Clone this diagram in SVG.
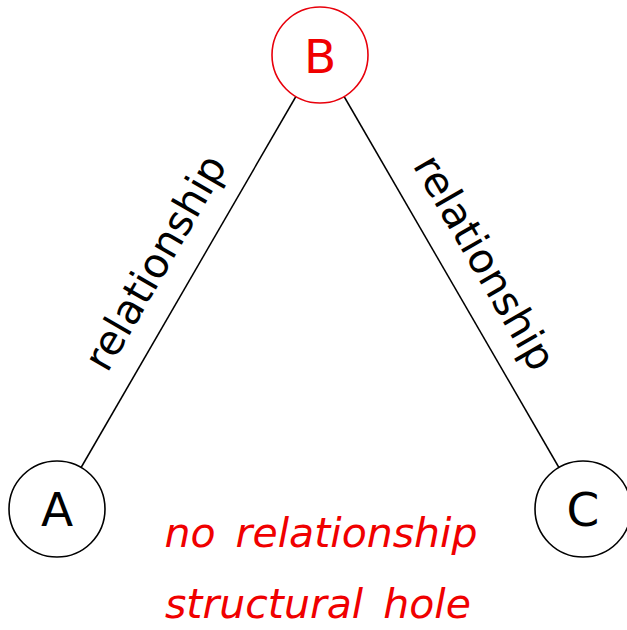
<svg xmlns="http://www.w3.org/2000/svg" width="627" height="630" viewBox="0 0 627 630">
<style>
.node{fill:#fff;stroke:#000;stroke-width:1.6}
.nodeR{fill:#fff;stroke:#e8000b;stroke-width:1.6}
.lbl{font-family:"DejaVu Sans",sans-serif;font-size:47px;text-anchor:middle}
.edge{stroke:#000;stroke-width:1.5;fill:none}
.elbl{font-family:"DejaVu Sans",sans-serif;font-size:41px;text-anchor:middle;fill:#000}
.red{font-family:"DejaVu Sans",sans-serif;font-size:41px;font-style:italic;text-anchor:middle;fill:#f00000;word-spacing:7px}
</style>
<rect width="627" height="630" fill="#fff"/>
<g id="connectors">
<line class="edge" x1="295.9" y1="96.5" x2="81.1" y2="467.5"/>
<line class="edge" x1="344.1" y1="96.5" x2="558.9" y2="467.5"/>
<text class="elbl" x="167.4" y="269.5" transform="rotate(-60 167.4 269.5)">relationship</text>
<text class="elbl" x="472.6" y="269.5" transform="rotate(60 472.6 269.5)">relationship</text>
</g>
<g id="B">
<circle class="nodeR" cx="320" cy="55" r="48"/>
<text class="lbl" x="320" y="72.5" fill="#f00000">B</text>
</g>
<g id="A">
<circle class="node" cx="57" cy="509" r="48"/>
<text class="lbl" x="57" y="526" fill="#000">A</text>
</g>
<g id="C">
<circle class="node" cx="583" cy="509" r="48"/>
<text class="lbl" x="583" y="526" fill="#000">C</text>
</g>
<g id="notes">
<text class="red" x="321" y="547">no relationship</text>
<text class="red" x="318" y="618">structural hole</text>
</g>
</svg>
